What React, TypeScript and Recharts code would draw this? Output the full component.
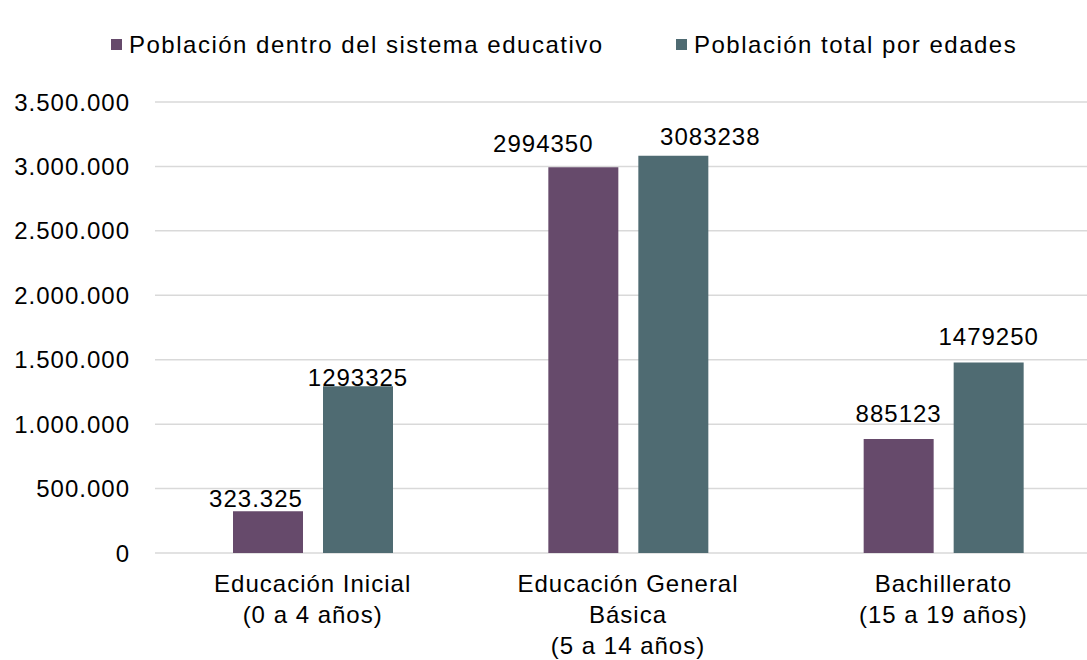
import React from "react";
import { BarChart, Bar, XAxis, YAxis, CartesianGrid, LabelList } from "recharts";

const categories = [
  "Educación Inicial\n(0 a 4 años)",
  "Educación General\nBásica\n(5 a 14 años)",
  "Bachillerato\n(15 a 19 años)",
];
const enSistema = [323325, 2994350, 885123];
const poblacionTotal = [1293325, 3083238, 1479250];
const enSistemaLabels = ["323.325", "2994350", "885123"];
const totalLabels = ["1293325", "3083238", "1479250"];
const yTicks = [0, 500000, 1000000, 1500000, 2000000, 2500000, 3000000, 3500000];
const seriesNames = ["Población dentro del sistema educativo", "Población total por edades"];

const PURPLE = "#664a6b";
const TEAL = "#4f6b72";
const FONT = "'Liberation Sans', Arial, sans-serif";

// label placement tweaks (styling): [dx, dy relative to bar top]
const purpleLabelOffsets = [[-12, -4], [-40, -15], [0, -17]];
const tealLabelOffsets = [[0, 0], [37, -11], [0, -17]];

const data = categories.map((c, i) => ({
  cat: c,
  sistema: enSistema[i],
  total: poblacionTotal[i],
}));

const fmt = (v: number) =>
  v === 0 ? "0" : String(v).replace(/\B(?=(\d{3})+(?!\d))/g, ".");

const makeLabel = (labels: string[], offsets: number[][]) => (props: any) => {
  const { x, y, width, index } = props;
  const [dx, dy] = offsets[index];
  return (
    <text
      x={x + width / 2 + dx}
      y={y + dy}
      textAnchor="middle"
      fontFamily={FONT}
      fontSize={24}
      letterSpacing={1}
      fill="#000"
    >
      {labels[index]}
    </text>
  );
};

const XTick = (props: any) => {
  const { x, y, payload } = props;
  const lines = String(payload.value).split("\n");
  return (
    <g>
      {lines.map((l: string, i: number) => (
        <text
          key={i}
          x={x}
          y={y + 39 + i * 31}
          textAnchor="middle"
          fontFamily={FONT}
          fontSize={24}
          letterSpacing={1}
          fill="#000"
        >
          {l}
        </text>
      ))}
    </g>
  );
};

export default function App() {
  return (
    <div style={{ position: "absolute", left: 0, top: 0, width: 1087, height: 660, overflow: "hidden", background: "#fff" }}>
      <div style={{ position: "absolute", left: 0, top: 0 }}>
        <BarChart
          width={1101}
          height={660}
          data={data}
          margin={{ top: 102, right: 0, bottom: 0, left: 0 }}
          barSize={70}
          barGap={20}
        >
          <CartesianGrid vertical={false} stroke="#d9d9d9" strokeWidth={1.5} />
          <XAxis
            dataKey="cat"
            axisLine={false}
            tickLine={false}
            tickSize={0}
            tickMargin={0}
            interval={0}
            tick={<XTick />}
            height={107}
          />
          <YAxis
            width={155}
            domain={[0, 3500000]}
            ticks={yTicks}
            tickFormatter={fmt}
            axisLine={false}
            tickLine={false}
            tickSize={6}
            tickMargin={19}
            tick={{ fontFamily: FONT, fontSize: 24, fill: "#000", letterSpacing: 1 }}
          />
          <Bar dataKey="sistema" fill={PURPLE} isAnimationActive={false}>
            <LabelList dataKey="sistema" content={makeLabel(enSistemaLabels, purpleLabelOffsets)} />
          </Bar>
          <Bar dataKey="total" fill={TEAL} isAnimationActive={false}>
            <LabelList dataKey="total" content={makeLabel(totalLabels, tealLabelOffsets)} />
          </Bar>
        </BarChart>
      </div>
      <div style={{ position: "absolute", left: 111, top: 39, width: 11, height: 11, background: PURPLE }} />
      <div style={{ position: "absolute", left: 129, top: 30, fontFamily: FONT, fontSize: 24, letterSpacing: 1.5, lineHeight: "30px", whiteSpace: "nowrap", color: "#000" }}>
        {seriesNames[0]}
      </div>
      <div style={{ position: "absolute", left: 676, top: 39, width: 11, height: 11, background: TEAL }} />
      <div style={{ position: "absolute", left: 694, top: 30, fontFamily: FONT, fontSize: 24, letterSpacing: 1.5, lineHeight: "30px", whiteSpace: "nowrap", color: "#000" }}>
        {seriesNames[1]}
      </div>
    </div>
  );
}
